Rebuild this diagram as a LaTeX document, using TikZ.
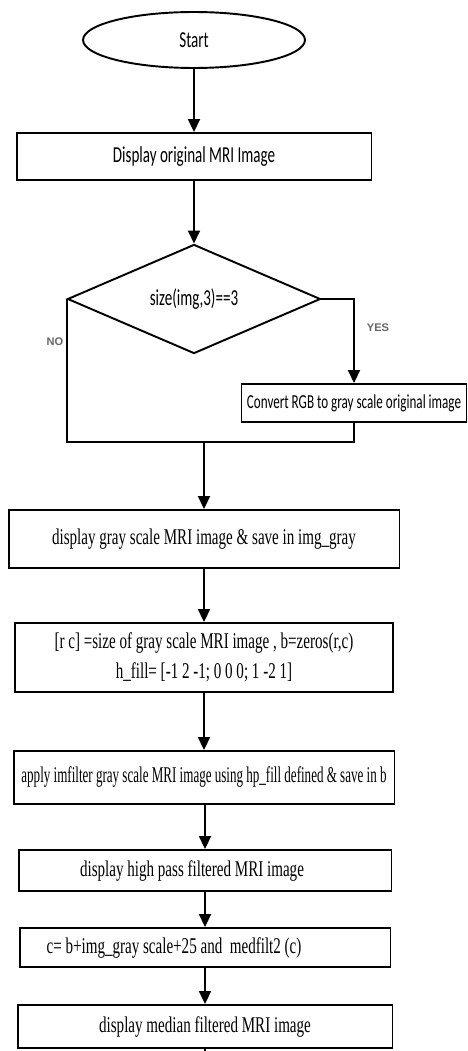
\documentclass[tikz,border=0pt]{standalone}
\usepackage{fontspec}
\usetikzlibrary{shapes.geometric, arrows.meta}
\newfontfamily\calibfont[FakeStretch=0.66]{Carlito}
\newfontfamily\timesfont[FakeStretch=0.67]{Liberation Serif}
\newfontfamily\timesnarrow[FakeStretch=0.58]{Liberation Serif}
\newfontfamily\labelfont{Liberation Sans}

\tikzset{
  flowbox/.style={draw, rectangle, line width=1.1pt, inner sep=1pt},
  sansbox/.style={flowbox, font=\calibfont\fontsize{13}{15}\selectfont},
  serifbox/.style={flowbox, font=\timesfont\fontsize{12.8}{17}\selectfont},
  startnode/.style={draw, ellipse, line width=1.1pt, inner sep=0pt,
    minimum width=4.44cm, minimum height=1.12cm, font=\calibfont\fontsize{13}{15}\selectfont},
  decnode/.style={draw, diamond, line width=1.1pt, inner sep=0pt,
    minimum width=5.06cm, minimum height=2.16cm, font=\calibfont\fontsize{13}{15}\selectfont},
  flowarrow/.style={-{Triangle[length=2.6mm, width=2.4mm]}, line width=1.1pt},
  flowline/.style={line width=1.1pt},
  yesno/.style={font=\labelfont\bfseries\fontsize{6.3}{7}\selectfont, text=black!60}
}

\begin{document}
\begin{tikzpicture}[x=0.02cm, y=-0.02cm]
  \useasboundingbox (0,0) rectangle (467,1051);

  % upper part
  \node[startnode] (start) at (194,40) {Start};
  \node[sansbox, minimum width=7.1cm, minimum height=0.94cm] (disp) at (194,156.5)
    {Display original MRI Image};
  \node[decnode] (check) at (194,299) {size(img,3)==3};
  \node[sansbox, minimum width=4.5cm, minimum height=0.76cm,
        font=\calibfont\fontsize{11.3}{14}\selectfont] (conv) at (354,403)
    {Convert RGB to gray scale original image};
  \coordinate (join) at (204,442);
  \node[yesno] (yes) at (378,328) {YES};
  \node[yesno] (no) at (55,342) {NO};

  % lower part
  \node[serifbox, minimum width=7.82cm, minimum height=1.16cm] (gray) at (204,539)
    {display gray scale MRI image \& save in img\_gray};
  \node[serifbox, minimum width=7.56cm, minimum height=1.38cm, align=center] (dims) at (204,657.5)
    {[r c] =size of gray scale MRI image , b=zeros(r,c)\\ h\_fill= [-1 2 -1; 0 0 0; 1 -2 1]};
  \node[serifbox, minimum width=7.62cm, minimum height=1.06cm,
        font=\timesnarrow\fontsize{12.8}{17}\selectfont] (filt) at (204,777.5)
    {apply imfilter gray scale MRI image using hp\_fill defined \& save in b};
  \node[serifbox, minimum width=7.46cm, minimum height=0.82cm] (hp) at (205,870.5)
    {\hspace*{-0.52cm}display high pass filtered MRI image};
  \node[serifbox, minimum width=7.42cm, minimum height=0.78cm] (cadd) at (205,947.5)
    {\hspace*{-1.24cm}c= b+img\_gray scale+25 and~ medfilt2 (c)};
  \node[serifbox, minimum width=7.5cm, minimum height=0.86cm] (med) at (205,1026.5)
    {display median filtered MRI image};
  \coordinate (tail) at (205,1058);

  % connectors
  \draw[flowarrow] (start) -- (disp);
  \draw[flowarrow] (disp) -- (check);
  \draw[flowarrow] (check.east) -| (conv.north);
  \draw[flowline] (check.west) |- (join);
  \draw[flowline] (conv.south) |- (join);
  \draw[flowarrow] (join) -- (join |- gray.north);
  \draw[flowarrow] (gray) -- (dims);
  \draw[flowarrow] (dims) -- (filt);
  \draw[flowarrow] (filt.south -| hp.north) -- (hp.north);
  \draw[flowarrow] (hp) -- (cadd);
  \draw[flowarrow] (cadd) -- (med);
  \draw[flowline] (med) -- (tail);
\end{tikzpicture}
\end{document}
